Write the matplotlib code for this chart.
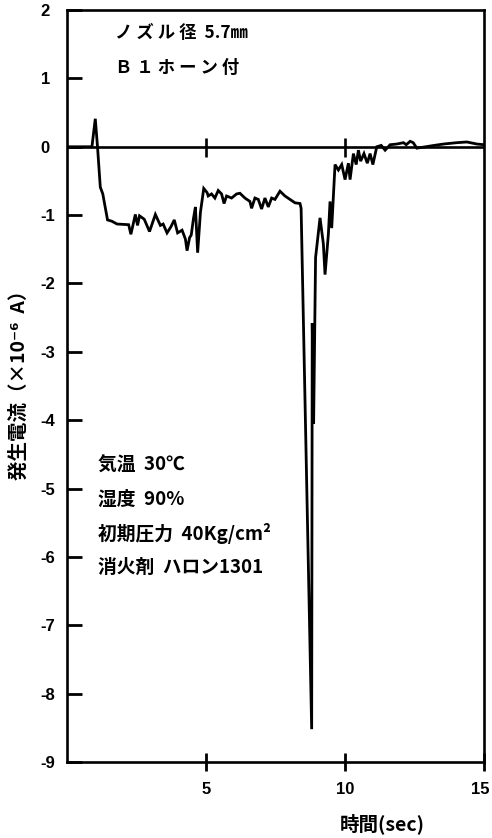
import matplotlib
matplotlib.use("Agg")
import matplotlib.pyplot as plt
from matplotlib.transforms import ScaledTranslation

plt.rcParams['font.family'] = ['Noto Sans CJK JP', 'DejaVu Sans']
plt.rcParams['axes.unicode_minus'] = False

# time (sec) and generated current (x1e-6 A)
t = [0.0, 0.90, 1.02, 1.10, 1.20, 1.29, 1.46, 1.62, 1.80, 2.22, 2.30, 2.40,
     2.46, 2.54, 2.61, 2.78, 2.97, 3.18, 3.36, 3.46, 3.60, 3.74, 3.86, 3.98,
     4.14, 4.26, 4.32, 4.41, 4.47, 4.55, 4.62, 4.70, 4.80, 4.92, 5.04, 5.08,
     5.20, 5.32, 5.44, 5.56, 5.65, 5.74, 5.92, 6.10, 6.22, 6.40, 6.58, 6.64,
     6.76, 6.88, 7.00, 7.12, 7.24, 7.36, 7.48, 7.66, 7.84, 8.02, 8.20, 8.38,
     8.42, 8.80, 8.82, 8.87, 8.94, 9.10, 9.22, 9.28, 9.40, 9.46, 9.52, 9.64,
     9.76, 9.88, 10.00, 10.12, 10.18, 10.30, 10.40, 10.48, 10.56, 10.68,
     10.80, 10.90, 11.00, 11.14, 11.30, 11.44, 11.62, 11.86, 12.10, 12.20,
     12.34, 12.45, 12.58, 12.90, 13.20, 13.54, 14.02, 14.38, 14.74, 15.00]
current = [0.0, 0.0, 0.41, 0.0, -0.59, -0.69, -1.07, -1.09, -1.13, -1.14, -1.28, -1.10,
           -0.99, -1.15, -1.01, -1.06, -1.24, -0.99, -1.15, -1.13, -1.26, -1.17, -1.07, -1.26,
           -1.22, -1.35, -1.52, -1.33, -1.29, -1.05, -0.88, -1.55, -0.96, -0.61, -0.67, -0.72,
           -0.69, -0.75, -0.64, -0.69, -0.83, -0.72, -0.75, -0.69, -0.68, -0.75, -0.80, -0.90,
           -0.75, -0.77, -0.91, -0.75, -0.88, -0.75, -0.77, -0.65, -0.72, -0.77, -0.82, -0.83,
           -0.90, -8.52, -2.58, -4.05, -1.62, -1.04, -1.42, -1.87, -1.28, -0.80, -1.19, -0.26,
           -0.34, -0.26, -0.48, -0.24, -0.48, -0.10, -0.26, -0.05, -0.21, -0.10,
           -0.24, -0.10, -0.26, 0.0, 0.02, -0.05, 0.03, 0.04, 0.06, 0.03,
           0.08, 0.06, -0.02, 0.0, 0.02, 0.04, 0.06, 0.07, 0.04, 0.03]

xticks = [5, 10, 15]
yticks = list(range(-9, 3))

top_notes = ["ノ ズ ル 径  5.7㎜", "Ｂ １ ホ ー ン 付"]
cond_notes = ["気温  30℃", "湿度  90%", "初期圧力  40Kg/cm²", "消火剤  ハロン1301"]

fig = plt.figure(figsize=(4.92, 8.38), dpi=100)
ax = fig.add_axes([0.136, 0.0907, 0.848, 0.8973])

ax.axhline(0, color='black', lw=1.9, zorder=2)
ax.plot(t, current, color='black', lw=2.0, solid_joinstyle='miter', zorder=3)
# short marks on the zero line at the x ticks
ax.vlines(xticks[:-1], -0.15, 0.13, color='black', lw=1.9)

ax.set_xlim(0, 15)
ax.set_ylim(-9, 2)
ax.set_xticks(xticks)
ax.set_yticks(yticks)
ax.set_yticklabels([str(v) for v in yticks])

for s in ax.spines.values():
    s.set_linewidth(1.9)

ax.tick_params(axis='y', direction='in', length=11, width=2.0, pad=19,
               labelsize=12)
ax.tick_params(axis='x', direction='inout', length=13, width=2.0, pad=8,
               labelsize=12)
for lab in ax.get_yticklabels() + ax.get_xticklabels():
    lab.set_fontweight('bold')
    lab.set_family(['Liberation Sans', 'DejaVu Sans'])
for lab in ax.get_yticklabels():
    lab.set_horizontalalignment('left')
# keep the last x label inside the figure
last = ax.get_xticklabels()[-1]
last.set_transform(last.get_transform() + ScaledTranslation(-4 / 100, 0, fig.dpi_scale_trans))

ax.set_xlabel("時間(sec)", fontsize=14, fontweight='bold')
ax.xaxis.set_label_coords(0.755, -0.068)
ax.set_ylabel("発生電流（×10⁻⁶  A）", fontsize=14, fontweight='bold')
ax.yaxis.set_label_coords(-0.092, 0.508)

for i, s in enumerate(top_notes):
    ax.text(0.115, 0.969 - i * 0.046, s, transform=ax.transAxes,
            fontsize=12.5, fontweight='bold', va='center', ha='left')
for i, s in enumerate(cond_notes):
    ax.text(0.074, 0.395 - i * 0.0455, s, transform=ax.transAxes,
            fontsize=13.5, fontweight='bold', va='center', ha='left')

fig.savefig("out.png", dpi=100)
